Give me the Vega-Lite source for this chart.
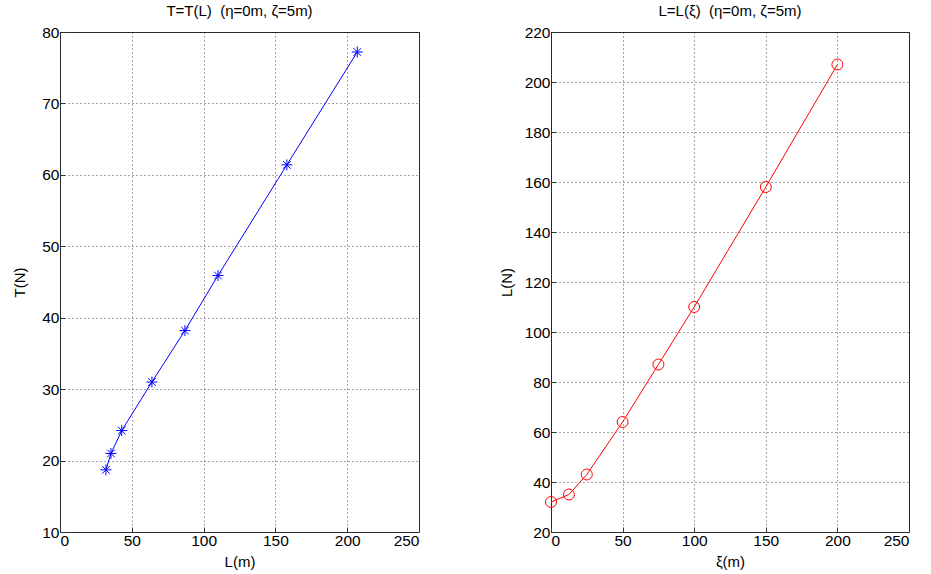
{
  "$schema": "https://vega.github.io/schema/vega-lite/v6.json",
  "padding": {"left": 12, "top": 3, "right": 5, "bottom": 2},
  "background": "white",
  "spacing": 78,
  "config": {
    "font": "Liberation Sans",
    "view": {"stroke": "#333", "strokeWidth": 1},
    "axis": {
      "grid": true,
      "gridColor": "#000",
      "gridDash": [1, 3],
      "gridOpacity": 0.7,
      "domain": false,
      "tickColor": "#333",
      "tickSize": -5,
      "labelFontSize": 15.5,
      "labelColor": "#000",
      "titleFontSize": 15,
      "titleFontWeight": "normal",
      "titleColor": "#000",
      "labelPadding": 6
    },
    "title": {"fontSize": 15, "fontWeight": "normal", "anchor": "middle", "offset": 6}
  },
  "datasets": {
    "tl": [
      {"L": 32, "T": 18.7},
      {"L": 35.5, "T": 21},
      {"L": 43, "T": 24.2},
      {"L": 64, "T": 31},
      {"L": 87, "T": 38.2},
      {"L": 110, "T": 45.9},
      {"L": 158, "T": 61.4},
      {"L": 207, "T": 77.2}
    ],
    "lx": [
      {"xi": 0, "L": 32},
      {"xi": 12.5, "L": 35},
      {"xi": 25, "L": 43},
      {"xi": 50, "L": 64},
      {"xi": 75, "L": 87},
      {"xi": 100, "L": 110},
      {"xi": 150, "L": 158},
      {"xi": 200, "L": 207}
    ]
  },
  "hconcat": [
    {
      "title": "T=T(L)\u00a0\u00a0(η=0m, ζ=5m)",
      "width": 359,
      "height": 500,
      "data": {"name": "tl"},
      "encoding": {
        "x": {"field": "L", "type": "quantitative", "title": "L(m)",
              "scale": {"domain": [0, 250], "nice": false},
              "axis": {"values": [0, 50, 100, 150, 200, 250], "titlePadding": 6}},
        "y": {"field": "T", "type": "quantitative", "title": "T(N)",
              "scale": {"domain": [10, 80], "nice": false, "zero": false},
              "axis": {"values": [10, 20, 30, 40, 50, 60, 70, 80], "titlePadding": 14}}
      },
      "layer": [
        {"mark": {"type": "line", "color": "#0000ff", "strokeWidth": 1}},
        {"mark": {"type": "point", "shape": "M-1,0L1,0M0,-1L0,1M-0.7,-0.7L0.7,0.7M-0.7,0.7L0.7,-0.7",
                  "filled": false, "color": "#0000ff", "size": 120, "strokeWidth": 1, "opacity": 1}}
      ]
    },
    {
      "title": "L=L(ξ)\u00a0\u00a0(η=0m, ζ=5m)",
      "width": 358,
      "height": 500,
      "data": {"name": "lx"},
      "encoding": {
        "x": {"field": "xi", "type": "quantitative", "title": "ξ(m)",
              "scale": {"domain": [0, 250], "nice": false},
              "axis": {"values": [0, 50, 100, 150, 200, 250], "titlePadding": 6}},
        "y": {"field": "L", "type": "quantitative", "title": "L(N)",
              "scale": {"domain": [20, 220], "nice": false, "zero": false},
              "axis": {"values": [20, 40, 60, 80, 100, 120, 140, 160, 180, 200, 220], "titlePadding": 10}}
      },
      "layer": [
        {"mark": {"type": "line", "color": "#ff0000", "strokeWidth": 1}},
        {"mark": {"type": "point", "shape": "circle", "filled": false, "color": "#ff0000", "size": 120, "strokeWidth": 1, "opacity": 1}}
      ]
    }
  ]
}
